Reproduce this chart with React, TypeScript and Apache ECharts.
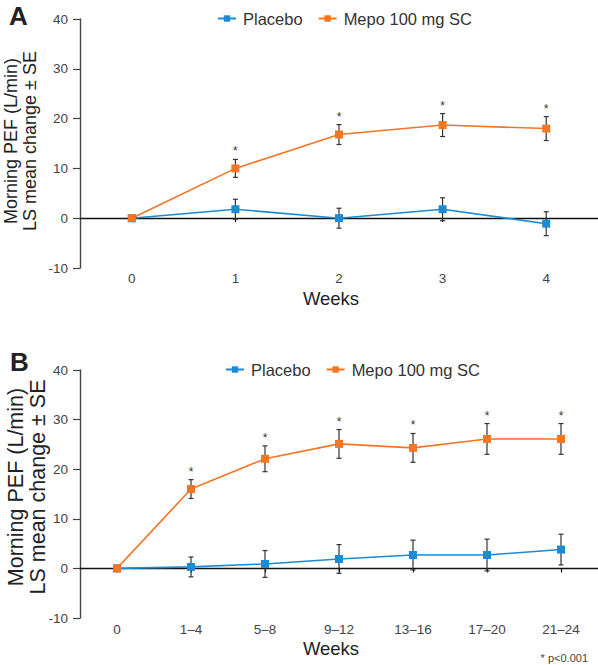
import React, { useEffect, useRef } from "react";
import * as echarts from "echarts";

const weeksA = ["0", "1", "2", "3", "4"];
const placeboA = [0, 1.8, 0, 1.8, -1.1];
const placeboSeA = [0, 2.0, 2.0, 2.3, 2.4];
const mepoA = [0, 10.0, 16.8, 18.7, 18.0];
const mepoSeA = [0, 1.8, 2.0, 2.3, 2.4];
const sigA = [0, 1, 1, 1, 1];

const weeksB = ["0", "1–4", "5–8", "9–12", "13–16", "17–20", "21–24"];
const placeboB = [0, 0.3, 0.9, 1.9, 2.7, 2.7, 3.8];
const placeboSeB = [0, 2.0, 2.7, 2.9, 3.0, 3.2, 3.1];
const mepoB = [0, 16.0, 22.1, 25.1, 24.3, 26.1, 26.1];
const mepoSeB = [0, 1.9, 2.6, 2.9, 2.9, 3.1, 3.1];
const sigB = [0, 1, 1, 1, 1, 1, 1];

const yTicks = { min: -10, max: 40, interval: 10 };
const seriesNames = ["Placebo", "Mepo 100 mg SC"];

const BLUE = "#1a8bd4";
const ORANGE = "#f47524";
const FONT = "'Liberation Sans', Arial, Helvetica, sans-serif";

function errData(vals: number[], se: number[], sig: number[]) {
  return vals.map((v, i) => [i, v - se[i], v + se[i], sig[i], se[i]]);
}

function renderErr(params: any, api: any) {
  const i = api.value(0);
  const lo = api.value(1);
  const hi = api.value(2);
  const sig = api.value(3);
  const se = api.value(4);
  const children: any[] = [];
  const top = api.coord([i, hi]);
  const bot = api.coord([i, lo]);
  const x = top[0];
  const st = { stroke: "#333", lineWidth: 1.2 };
  if (se > 0) {
    children.push({ type: "line", shape: { x1: x, y1: top[1], x2: x, y2: bot[1] }, style: st });
    children.push({ type: "line", shape: { x1: x - 2.5, y1: top[1], x2: x + 2.5, y2: top[1] }, style: st });
    children.push({ type: "line", shape: { x1: x - 2.5, y1: bot[1], x2: x + 2.5, y2: bot[1] }, style: st });
  }
  if (sig === 1) {
    children.push({
      type: "text",
      x: x,
      y: top[1] - 8,
      style: { text: "*", fill: "#333", fontSize: 12, fontFamily: FONT, align: "center", verticalAlign: "middle" },
    });
  }
  return { type: "group", children };
}

export default function App() {
  const ref = useRef<HTMLDivElement>(null);
  useEffect(() => {
    if (!ref.current) return;
    const chart = echarts.init(ref.current, undefined, { renderer: "svg" });
    const grids = [
      { left: 80, top: 19, width: 518, height: 249 },
      { left: 80, top: 370, width: 518, height: 248 },
    ];
    const mkXAxes = (gi: number, cats: string[], margin: number) => [
      {
        type: "category",
        gridIndex: gi,
        data: cats,
        position: "bottom",
        boundaryGap: true,
        axisLine: { show: false, onZero: false },
        axisTick: { show: false },
        axisLabel: { color: "#444", fontSize: 13.5, fontFamily: FONT, margin },
      },
      {
        type: "category",
        gridIndex: gi,
        data: cats,
        position: "top",
        boundaryGap: true,
        axisLine: { show: true, onZero: true, lineStyle: { color: "#111", width: 1.4 } },
        axisTick: { show: true, inside: true, alignWithLabel: true, length: 4, lineStyle: { color: "#111", width: 1.2 } },
        axisLabel: { show: false },
      },
    ];
    const mkYAxis = (gi: number) => ({
      type: "value",
      gridIndex: gi,
      ...yTicks,
      axisLine: { show: true, lineStyle: { color: "#444", width: 1.4 } },
      axisTick: { show: true, length: 7, lineStyle: { color: "#444", width: 1.2 } },
      splitLine: { show: false },
      axisLabel: { color: "#444", fontSize: 13.5, fontFamily: FONT, margin: 12 },
    });
    const lineSeries = (name: string, data: number[], color: string, xi: number, yi: number) => ({
      type: "line",
      name,
      data,
      xAxisIndex: xi,
      yAxisIndex: yi,
      symbol: "rect",
      symbolSize: 8,
      lineStyle: { color, width: 1.6 },
      itemStyle: { color },
      z: 3,
    });
    const errSeries = (name: string, d: any[], color: string, xi: number, yi: number) => ({
      type: "custom",
      name,
      xAxisIndex: xi,
      yAxisIndex: yi,
      data: d,
      itemStyle: { color },
      renderItem: renderErr,
      encode: { x: 0, y: [1, 2] },
      z: 2,
      silent: true,
    });
    const legendBase = {
      orient: "horizontal",
      itemWidth: 18,
      itemHeight: 8,
      itemGap: 15,
      padding: 0,
      data: seriesNames,
      textStyle: { color: "#333", fontSize: 16.5, fontFamily: FONT, padding: [0, 0, 0, 2] },
      selectedMode: false,
    };
    const option: any = {
      animation: false,
      backgroundColor: "#fff",
      grid: grids,
      xAxis: [...mkXAxes(0, weeksA, 3), ...mkXAxes(1, weeksB, 4)],
      yAxis: [mkYAxis(0), mkYAxis(1)],
      legend: [
        { ...legendBase, left: 217, top: 10 },
        { ...legendBase, left: 225, top: 361 },
      ],
      series: [
        lineSeries(seriesNames[0], placeboA, BLUE, 0, 0),
        lineSeries(seriesNames[1], mepoA, ORANGE, 0, 0),
        lineSeries(seriesNames[0], placeboB, BLUE, 2, 1),
        lineSeries(seriesNames[1], mepoB, ORANGE, 2, 1),
        errSeries(seriesNames[0], errData(placeboA, placeboSeA, placeboA.map(() => 0)), BLUE, 0, 0),
        errSeries(seriesNames[1], errData(mepoA, mepoSeA, sigA), ORANGE, 0, 0),
        errSeries(seriesNames[0], errData(placeboB, placeboSeB, placeboB.map(() => 0)), BLUE, 2, 1),
        errSeries(seriesNames[1], errData(mepoB, mepoSeB, sigB), ORANGE, 2, 1),
      ],
      graphic: [
        { type: "text", left: 9, top: 3, style: { text: "A", fontSize: 26, fontWeight: "bold", fill: "#222", fontFamily: FONT } },
        { type: "text", left: 10, top: 349, style: { text: "B", fontSize: 26, fontWeight: "bold", fill: "#222", fontFamily: FONT } },
        {
          type: "text",
          x: 20,
          y: 141,
          rotation: Math.PI / 2,
          style: {
            text: "Morning PEF (L/min)\nLS mean change ± SE",
            fontSize: 18,
            lineHeight: 19,
            fill: "#222",
            fontFamily: FONT,
            align: "center",
            verticalAlign: "middle",
          },
        },
        {
          type: "text",
          x: 27,
          y: 487,
          rotation: Math.PI / 2,
          style: {
            text: "Morning PEF (L/min)\nLS mean change ± SE",
            fontSize: 21.5,
            lineHeight: 22,
            fill: "#222",
            fontFamily: FONT,
            align: "center",
            verticalAlign: "middle",
          },
        },
        { type: "text", x: 331, y: 298, style: { text: "Weeks", fontSize: 18.5, fill: "#222", fontFamily: FONT, align: "center", verticalAlign: "middle" } },
        { type: "text", x: 331, y: 648, style: { text: "Weeks", fontSize: 18.5, fill: "#222", fontFamily: FONT, align: "center", verticalAlign: "middle" } },
        { type: "text", x: 588, y: 658, style: { text: "* p<0.001", fontSize: 11, fill: "#444", fontFamily: FONT, align: "right", verticalAlign: "middle" } },
      ],
    };
    chart.setOption(option);
    return () => chart.dispose();
  }, []);
  return (
    <div
      ref={ref}
      style={{ position: "fixed", left: 0, top: 0, width: 598, height: 665, background: "#fff" }}
    />
  );
}
